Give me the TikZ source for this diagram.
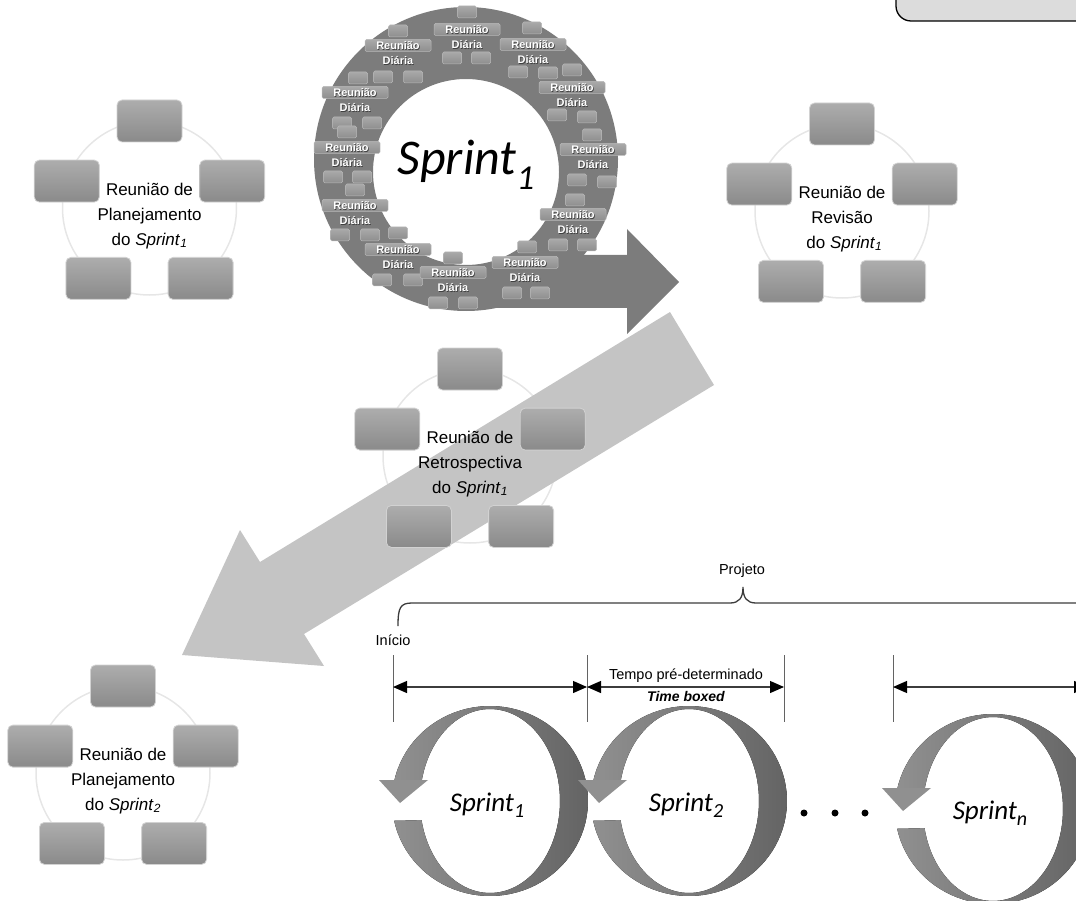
\documentclass[tikz,border=0pt]{standalone}
\usepackage{fontspec}
\setmainfont{Liberation Sans}
\newfontfamily\calfont{Carlito}
\usetikzlibrary{arrows.meta}

\definecolor{notefill}{HTML}{DCDCDC}
\definecolor{ringgray}{HTML}{7C7C7C}
\definecolor{chiptop}{HTML}{A9A9A9}
\definecolor{chipbot}{HTML}{8E8E8E}
\definecolor{chipedge}{HTML}{B9B9B9}
\definecolor{cardtop}{HTML}{ADADAD}
\definecolor{cardbot}{HTML}{8A8A8A}
\definecolor{cardedge}{HTML}{D2D2D2}
\definecolor{orbit}{HTML}{E6E6E6}
\definecolor{bandgray}{HTML}{C4C4C4}
\definecolor{loopL}{HTML}{909090}
\definecolor{loopR}{HTML}{646464}
\definecolor{rule}{HTML}{3C3C3C}
\definecolor{shade}{HTML}{404040}

\tikzset{
  card/.style={rounded corners=5pt, top color=cardtop, bottom color=cardbot,
    draw=cardedge, line width=0.8pt, minimum width=65pt, minimum height=42pt, inner sep=0pt},
  orbitline/.style={draw=orbit, line width=1.5pt},
  cardlabel/.style={align=center, inner sep=0pt, font=\fontsize{17}{25}\selectfont},
  chip/.style={rounded corners=1.5pt, top color=chiptop, bottom color=chipbot,
    draw=chipedge, line width=0.5pt, minimum width=19pt, minimum height=12pt, inner sep=0pt},
  widechip/.style={chip, minimum width=66pt},
  dailylabel/.style={align=center, inner sep=0pt, text=white, font=\bfseries\fontsize{11}{15}\selectfont},
  dailyshadow/.style={dailylabel, text=shade},
  dimline/.style={draw=rule, line width=1.2pt,
    arrows={Triangle[length=14pt,width=12pt,color=black]-Triangle[length=14pt,width=12pt,color=black]}},
  tickline/.style={draw=rule!80, line width=1pt},
  loopfill/.style={left color=loopL, right color=loopR},
  sprintsmall/.style={inner sep=0pt, anchor=base, font=\calfont\itshape\fontsize{27}{27}\selectfont},
  plain/.style={inner sep=0pt, font=\fontsize{14.5}{16}\selectfont},
}

% a meeting cycle: faint orbit, five cards, caption in the middle
\newcommand{\meetcycle}[4]{%
  \begin{scope}[shift={(#2,#3)}]
    \draw[orbitline] (0,0) circle[radius=87];
    \node[card] (#1-a) at (0,-87) {};
    \node[card] (#1-b) at (-82.7,-26.9) {};
    \node[card] (#1-c) at (82.7,-26.9) {};
    \node[card] (#1-d) at (-51.1,70.4) {};
    \node[card] (#1-e) at (51.1,70.4) {};
    \node[cardlabel] (#1-t) at (0,8) {#4};
  \end{scope}}

\begin{document}
\begin{tikzpicture}[x=1pt, y=-1pt]
\useasboundingbox (0,0) rectangle (1076,901);

% note box in the corner
\draw[fill=notefill, line width=1.3pt, rounded corners=15pt] (896,-40) rectangle (1130,21);

% sprint planning 1
\meetcycle{plan}{149.5}{208}{Reunião de\\Planejamento\\do \textit{Sprint}\textsubscript{\itshape 1}}

% daily-meeting ring with its exit arrow
\fill[ringgray, even odd rule] (466,159) circle[radius=152] (466,172) circle[radius=93];
\fill[ringgray] (515,255) -- (627,255) -- (627,229) -- (679,282) -- (627,334)
  -- (627,308) -- (494,308) -- cycle;

\foreach \px/\py [count=\k] in {467/12, 398/31, 532/28, 358/78, 383/77, 413/77, 518/72,
  548/73, 572/70, 557/115, 587/117, 592/135, 342/123, 347/132, 372/123, 333/177, 362/177,
  355/190, 577/180, 607/182, 575/200, 340/235, 370/235, 398/233, 453/258, 558/245,
  587/245, 527/247, 382/280, 413/280, 438/303, 468/303, 512/293, 540/293, 452/58, 481/58}
  \node[chip] (chip\k) at (\px,\py) {};

\foreach \px/\py [count=\k] in {467/37, 398/53, 533/52, 355/100, 572/95, 347/155, 593/157,
  355/213, 573/222, 398/257, 525/270, 453/280} {
  \node[widechip] (dchip\k) at (\px,\py-7.5) {};
  \node[dailyshadow] (dshadow\k) at (\px+0.7,\py+0.7) {Reunião\\Diária};
  \node[dailylabel] (daily\k) at (\px,\py) {Reunião\\Diária};
}

\node[inner sep=0pt, anchor=base, font=\calfont\itshape\fontsize{50}{50}\selectfont]
  (bigsprint) at (466,175) {Sprint\raisebox{-15pt}{\fontsize{35}{35}\selectfont 1}};

% sprint review 1
\meetcycle{rev}{842}{211}{Reunião de\\Revisão\\\ do \textit{Sprint}\textsubscript{\itshape 1}}

% retrospective: orbit first, then the hand-over band, then cards and caption
\draw[orbitline] (470,456) circle[radius=87];
\fill[bandgray] (670,312) -- (714,385) -- (304,634) -- (324,666) -- (182,655)
  -- (240,530) -- (260,562) -- cycle;
\begin{scope}[shift={(470,456)}]
  \node[card] (retro-a) at (0,-87) {};
  \node[card] (retro-b) at (-82.7,-26.9) {};
  \node[card] (retro-c) at (82.7,-26.9) {};
  \node[card] (retro-d) at (-51.1,70.4) {};
  \node[card] (retro-e) at (51.1,70.4) {};
  \node[cardlabel] (retro-t) at (0,8) {Reunião de\\Retrospectiva\\do \textit{Sprint}\textsubscript{\itshape 1}};
\end{scope}

% sprint planning 2
\meetcycle{plan2}{123}{773}{Reunião de\\Planejamento\\do \textit{Sprint}\textsubscript{\itshape 2}}

% project time line
\node[plain] (projeto) at (742,571) {Projeto};
\draw[rule, line width=1.3pt] (398,626) .. controls (398,608) and (400,603) .. (412,603)
  -- (730,603) .. controls (739,603) and (743,598) .. (743,587)
  .. controls (743,598) and (747,603) .. (756,603) -- (1090,603);
\node[plain, anchor=base] (inicio) at (393,645) {Início};

\foreach \tx [count=\k] in {393, 587, 784, 893} {
  \draw[tickline] (\tx,655) -- (\tx,722);
  \coordinate (m\k) at (\tx,687);
}
\coordinate (m5) at (1088,687);
\draw[dimline] (m1) -- (m2);
\draw[dimline] (m2) -- (m3);
\draw[dimline] (m4) -- (m5);
\node[plain, anchor=base] (tempo) at (686,679) {Tempo pré-determinado};
\node[plain, anchor=base, font=\bfseries\itshape\fontsize{14}{16}\selectfont] (boxed) at (686,701) {Time boxed};

% sprint loops
\foreach \cx/\cy/\nm/\sb in {490/801/s1/1, 689/801/s2/2, 993/809/sn/n} {
  \fill[loopfill] plot[domain=-168:168, samples=90] ({\cx+98*cos(\x)},{\cy+95*sin(\x)})
    -- plot[domain=168:-168, samples=90] ({\cx+70*cos(\x)},{\cy+92*sin(\x)}) -- cycle;
  \fill[loopL] (\cx-111,\cy-21) -- (\cx-62,\cy-21) -- (\cx-90,\cy+2) -- cycle;
  \node[sprintsmall] (\nm) at (\cx-3,\cy+10) {Sprint\raisebox{-6pt}{\fontsize{20}{20}\selectfont\sb}};
}

% the dots between sprints
\foreach \dx [count=\k] in {804, 835, 865}
  \fill (\dx,813) circle[radius=3.5];

\end{tikzpicture}
\end{document}
